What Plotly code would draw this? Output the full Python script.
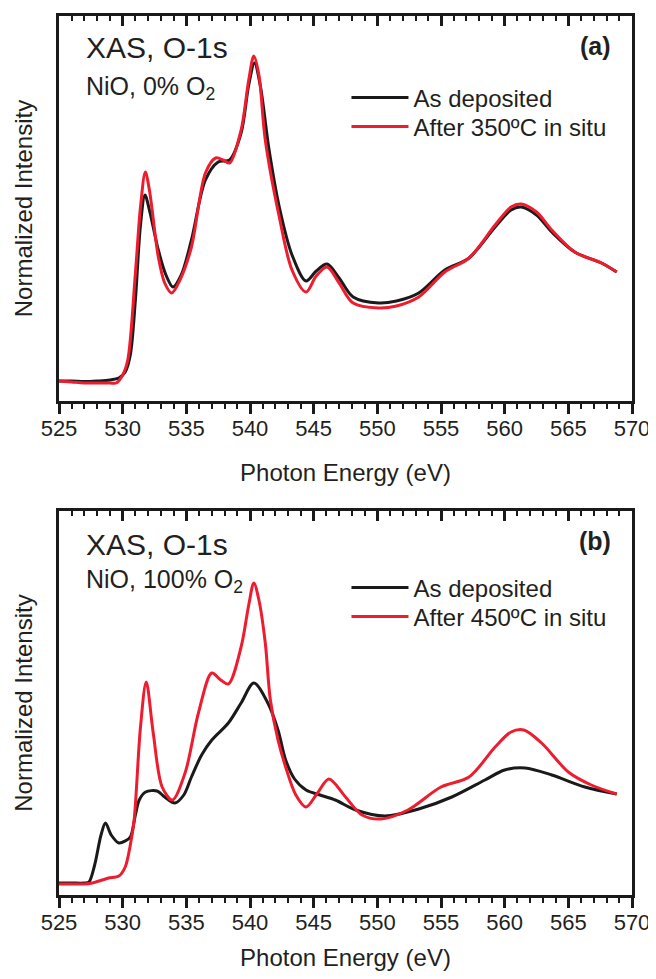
import plotly.graph_objects as go

# ---------------- data ----------------
# Panel (a): NiO, 0% O2
a_dep_E = [525, 526, 527, 528, 529, 529.7, 530.2, 530.6, 531.0, 531.4, 531.75, 532.1, 532.8,
           533.4, 533.95, 534.6, 535.4, 536.5, 537.5, 538.4, 539.3, 539.9, 540.35, 540.8,
           541.5, 542.3, 543.3, 544.4, 545.2, 546.05, 547.0, 548.1, 550.1, 551.5, 553.25,
           555.3, 557.2, 559.25, 560.5, 561.3, 562.5, 563.7, 565.5, 567.6, 568.8]
a_dep_I = [0.00, 0.00, -0.005, 0.00, 0.01, 0.03, 0.09, 0.26, 0.81, 1.56, 1.86, 1.71, 1.31,
           1.06, 0.94, 1.06, 1.41, 2.01, 2.19, 2.21, 2.48, 2.96, 3.18, 2.96,
           2.31, 1.74, 1.26, 1.00, 1.10, 1.17, 1.03, 0.84, 0.78, 0.80, 0.88,
           1.11, 1.23, 1.54, 1.71, 1.74, 1.66, 1.49, 1.29, 1.18, 1.09]

a_ann_E = [525, 526, 527, 528, 529, 529.5, 530.0, 530.4, 531.0, 531.4, 531.78, 532.1, 532.8,
           533.3, 533.85, 534.5, 535.4, 536.5, 537.3, 537.9, 538.4, 539.3, 539.9, 540.3,
           540.7, 541.2, 542.3, 543.3, 544.4, 545.2, 546.05, 547.0, 548.1, 550.1, 551.5,
           553.25, 555.3, 557.2, 559.25, 560.5, 561.3, 562.5, 563.7, 565.5, 567.6, 568.8]
a_ann_I = [0.00, -0.01, -0.02, -0.02, -0.02, -0.02, 0.06, 0.21, 1.08, 1.74, 2.09, 1.91, 1.24,
           0.98, 0.88, 1.01, 1.34, 2.08, 2.23, 2.21, 2.18, 2.51, 3.01, 3.25,
           3.06, 2.41, 1.64, 1.11, 0.89, 1.05, 1.14, 0.98, 0.78, 0.73, 0.75,
           0.84, 1.09, 1.23, 1.56, 1.74, 1.77, 1.69, 1.51, 1.29, 1.18, 1.09]

# Panel (b): NiO, 100% O2
b_dep_E = [525, 526, 527, 527.35, 527.8, 528.3, 528.65, 529.1, 529.7, 530.2, 530.6, 531.0,
           531.3, 531.8, 532.7, 533.3, 534.1, 534.8, 535.4, 536.2, 537.0, 538.3, 539.3,
           540.3, 541.4, 542.2, 542.8, 543.5, 544.4, 545.5, 546.7, 548.3, 550.6, 553.25,
           555.85, 558.45, 560.0, 561.6, 563.7, 566.3, 568.8]
b_dep_I = [0.00, 0.00, 0.00, 0.01, 0.18, 0.48, 0.60, 0.48, 0.40, 0.42, 0.46, 0.68,
           0.83, 0.91, 0.92, 0.86, 0.80, 0.88, 1.06, 1.28, 1.43, 1.60, 1.80,
           2.00, 1.80, 1.53, 1.23, 1.04, 0.93, 0.88, 0.83, 0.73, 0.67, 0.74,
           0.86, 1.03, 1.13, 1.15, 1.08, 0.96, 0.89]

b_ann_E = [525, 526, 527, 527.6, 528.4, 528.9, 529.7, 530.2, 530.6, 530.9, 531.4, 531.85,
           532.4, 533.1, 533.9, 534.9, 535.95, 537.0, 537.7, 538.3, 539.3, 539.9, 540.3,
           540.7, 541.2, 541.6, 542.2, 542.8, 543.6, 544.4, 545.3, 546.2, 547.5, 548.8,
           550.3, 552.4, 555.0, 557.2, 559.25, 560.5, 561.5, 562.9, 565.0, 566.8, 568.8]
b_ann_I = [-0.01, -0.01, -0.01, 0.00, 0.03, 0.05, 0.07, 0.16, 0.38, 0.63, 1.56, 2.01,
           1.50, 0.96, 0.83, 1.10, 1.70, 2.10, 2.03, 1.99, 2.36, 2.78, 3.00,
           2.83, 2.40, 1.83, 1.43, 1.16, 0.88, 0.76, 0.90, 1.04, 0.86, 0.68,
           0.64, 0.73, 0.96, 1.06, 1.36, 1.51, 1.53, 1.40, 1.11, 0.98, 0.89]

x_tickvals = [525, 530, 535, 540, 545, 550, 555, 560, 565, 570]
x_ticktext = ["525", "530", "535", "540", "545", "550", "555", "560", "565", "570"]
legend_names_a = ["As deposited", "After 350ºC in situ"]
legend_names_b = ["As deposited", "After 450ºC in situ"]

# ---------------- styling ----------------
FONT = "Liberation Sans, Arial, Helvetica, sans-serif"
TXT = "#231f20"
BLACK = "#1a1a1a"
RED = "#ed1c2e"
LW = 3

fig = go.Figure()

def add_line(x, y, name, color, xa, ya, legend):
    fig.add_trace(go.Scatter(x=x, y=y, mode="lines", name=name,
                             line=dict(color=color, width=LW, shape="spline", smoothing=0.9),
                             xaxis=xa, yaxis=ya, legend=legend))

add_line(a_dep_E, a_dep_I, legend_names_a[0], BLACK, "x", "y", "legend")
add_line(a_ann_E, a_ann_I, legend_names_a[1], RED, "x", "y", "legend2")
add_line(b_dep_E, b_dep_I, legend_names_b[0], BLACK, "x2", "y2", "legend3")
add_line(b_ann_E, b_ann_I, legend_names_b[1], RED, "x2", "y2", "legend4")

# empty traces hosting the inward-pointing top tick axes
fig.add_trace(go.Scatter(x=[], y=[], xaxis="x3", yaxis="y", showlegend=False, hoverinfo="skip"))
fig.add_trace(go.Scatter(x=[], y=[], xaxis="x4", yaxis="y2", showlegend=False, hoverinfo="skip"))

top_dom = [0.5620, 1.0]
bot_dom = [0.0, 0.43686]

def xaxis_main(anchor):
    return dict(range=[525, 570], tickmode="array", tickvals=x_tickvals, ticktext=x_ticktext,
                ticks="outside", ticklen=10, tickwidth=2.5, tickcolor=BLACK,
                minor=dict(ticks="outside", dtick=1, ticklen=5, tickwidth=2, tickcolor=BLACK),
                showline=True, linewidth=2.5, linecolor=BLACK, mirror=True,
                showgrid=False, zeroline=False, anchor=anchor, domain=[0, 1],
                tickfont=dict(family=FONT, size=22, color=TXT), ticklabelstandoff=-4,
                title=dict(text="Photon Energy (eV)", font=dict(family=FONT, size=24, color=TXT),
                           standoff=25),
                automargin=False)

def xaxis_top(overlay, anchor):
    return dict(range=[525, 570], overlaying=overlay, side="top", anchor=anchor,
                tickmode="array", tickvals=x_tickvals, showticklabels=False,
                ticks="inside", ticklen=10, tickwidth=2.5, tickcolor=BLACK,
                minor=dict(ticks="inside", dtick=1, ticklen=5, tickwidth=2, tickcolor=BLACK),
                showline=False, showgrid=False, zeroline=False, automargin=False)

def yaxis(rng, dom, anchor):
    return dict(range=rng, domain=dom, anchor=anchor, showticklabels=False, ticks="",
                showline=True, linewidth=2.5, linecolor=BLACK, mirror=True,
                showgrid=False, zeroline=False, automargin=False,
                title=dict(text="Normalized Intensity", font=dict(family=FONT, size=24, color=TXT),
                           standoff=17))

def legend_box(y):
    return dict(x=0.5017, y=y, xanchor="left", yanchor="middle", bgcolor="rgba(0,0,0,0)",
                font=dict(family=FONT, size=24, color=TXT), itemwidth=57)

fig.update_layout(
    width=648, height=963,
    margin=dict(l=51, r=24, t=8, b=76),
    paper_bgcolor="white", plot_bgcolor="white",
    font=dict(family=FONT, color=TXT),
    xaxis=xaxis_main("y"),
    xaxis2=xaxis_main("y2"),
    xaxis3=xaxis_top("x", "y"),
    xaxis4=xaxis_top("x2", "y2"),
    yaxis=yaxis([-0.20, 3.65], top_dom, "x"),
    yaxis2=yaxis([-0.12, 3.72], bot_dom, "x2"),
    legend=legend_box(0.9067),
    legend2=legend_box(0.8737),
    legend3=legend_box(0.3493),
    legend4=legend_box(0.3163),
    showlegend=True,
)

def label(text, x, y, size, xanchor="left", bold=False):
    fig.add_annotation(text=f"<b>{text}</b>" if bold else text, x=x, y=y, xref="paper", yref="paper",
                       xanchor=xanchor, yanchor="middle", showarrow=False,
                       font=dict(family=FONT, size=size, color=TXT))

label("XAS, O-1s", 0.043, 0.9636, 30)
label("NiO, 0% O<sub>2</sub>", 0.043, 0.918, 25)
label("(a)", 0.967, 0.9659, 25, xanchor="right", bold=True)
label("XAS, O-1s", 0.043, 0.3982, 30)
label("NiO, 100% O<sub>2</sub>", 0.043, 0.3572, 25)
label("(b)", 0.967, 0.4027, 25, xanchor="right", bold=True)

fig.write_html("out.html")
